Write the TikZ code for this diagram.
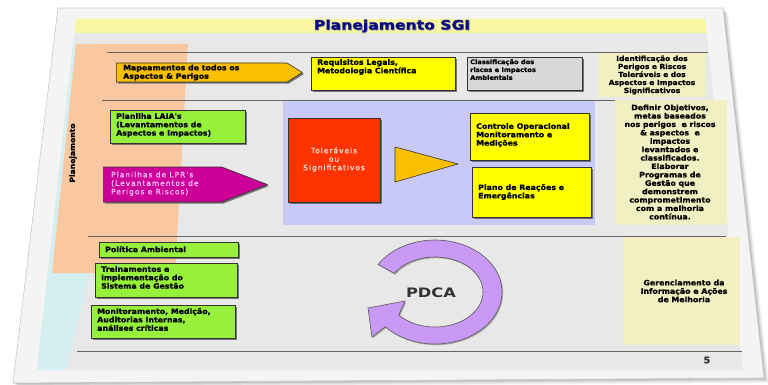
\documentclass[tikz,border=0pt]{standalone}
\usepackage{fontspec}
\setmainfont{DejaVu Sans}
\newfontfamily\bxfont{DejaVu Sans}[FakeStretch=1.06,FakeBold=1]
\newfontfamily\lsfont{DejaVu Sans}[LetterSpace=14,FakeBold=0.6]
\newfontfamily\ttlfont{DejaVu Sans}[FakeStretch=1.2,FakeBold=1.5]
\newfontfamily\pdfont{DejaVu Sans}[FakeStretch=1.25]
\usetikzlibrary{shapes.symbols,shapes.geometric,shadows}
\definecolor{slidebg}{HTML}{F4F4F4}
\definecolor{slideln}{HTML}{C8C8C8}
\definecolor{contentbg}{HTML}{E8E8E8}
\definecolor{titleband}{HTML}{F7F7A2}
\definecolor{navy}{HTML}{0A0A80}
\definecolor{orangeband}{HTML}{F9C8A0}
\definecolor{cyanband}{HTML}{D5EFF0}
\definecolor{lavender}{HTML}{C9C9F7}
\definecolor{yel}{HTML}{FFFF00}
\definecolor{gold}{HTML}{F8C000}
\definecolor{grbox}{HTML}{D8D8D8}
\definecolor{pale}{HTML}{F0F0C2}
\definecolor{lime}{HTML}{96F03C}
\definecolor{magenta}{HTML}{CC0099}
\definecolor{redor}{HTML}{FF3300}
\definecolor{pdca}{HTML}{C899F5}
\definecolor{pinktxt}{HTML}{FFD0FF}
\newcommand\ftA{\bxfont\bfseries\fontsize{7.4}{8.4}\selectfont}
\newcommand\ftB{\bxfont\bfseries\fontsize{6.3}{7.9}\selectfont}
\newcommand\ftL{\lsfont\fontsize{7.4}{8.5}\selectfont}
\begin{document}
\begin{tikzpicture}[x=1pt,y=-1pt,
  box/.style={draw=black!80, line width=0.6pt, inner sep=0pt, anchor=north west,
    drop shadow={shadow xshift=1.6pt, shadow yshift=-1.6pt, fill=black!65, opacity=0.8}},
  palebox/.style={fill=pale, inner sep=0pt, anchor=north west},
  txt/.style={font=\ftA, align=left, inner sep=0pt, anchor=north west},
  ctxt/.style={font=\ftA, align=center, inner sep=0pt},
  hline/.style={draw=black!60, line width=0.8pt}]
\useasboundingbox (0,0) rectangle (768,385);
% slide with soft shadow
\foreach \s/\o in {5/0.04,4/0.05,3/0.06,2/0.07,1/0.08}
  \fill[black,opacity=\o] (58+\s,8+\s) -- (723+\s,8+\s) -- (764+\s,378+\s) -- (13+\s,383+\s) -- cycle;
\fill[slidebg,draw=slideln,line width=0.6pt] (58,8) -- (723,8) -- (764,378) -- (13,383) -- cycle;
% content area
\fill[contentbg] (74.5,33) -- (706.5,33) -- (743,370) -- (37,370) -- cycle;
\fill[titleband] (76,19) -- (705,19) -- (706.5,33) -- (74.5,33) -- cycle;
\node[font=\ttlfont\bfseries\fontsize{13}{13}\selectfont, text=black!35, inner sep=0pt] (ttlshadow) at (392.8,26.8) {Planejamento SGI};
\node[font=\ttlfont\bfseries\fontsize{13}{13}\selectfont, text=navy, inner sep=0pt] (ttl) at (392,26) {Planejamento SGI};
% left bands
\fill[cyanband] (73,44) -- (92,44) -- (90,273) -- (66,370) -- (37,370) -- cycle;
\fill[orangeband] (76,44) -- (188,44) -- (175,273) -- (52,273) -- cycle;
\node[font=\bxfont\bfseries\fontsize{7.2}{8}\selectfont, rotate=90, inner sep=0pt] (plan) at (73,153) {Planejamento};
% separator lines
\draw[hline] (107,52) -- (708,52);
\draw[hline] (102,100) -- (712,100);
\draw[hline] (88,236) -- (726,236);
\draw[hline] (77,351) -- (742,351);
% lavender region
\fill[lavender] (283,101) rectangle (595,225);
% row 1
\node[box, signal, signal to=east, signal pointer angle=64, fill=gold, minimum width=186pt, minimum height=19pt, anchor=west] (map) at (116,72.5) {};
\node[txt] (mapt) at (123,64.5) {Mapeamentos de todos os\\Aspectos \& Perigos};
\node[box, fill=yel, minimum width=144pt, minimum height=33pt] (req) at (311,57) {};
\node[txt] (reqt) at (317,59) {Requisitos Legais,\\Metodologia Científica};
\node[box, fill=grbox, minimum width=115pt, minimum height=33pt] (cls) at (467,57) {};
\node[txt, font=\ftB] (clst) at (470,59) {Classificação dos\\riscos e Impactos\\Ambientais};
\node[palebox, minimum width=108pt, minimum height=44pt] (ident) at (598,53) {};
\node[ctxt, font=\bxfont\bfseries\fontsize{7}{8}\selectfont] (identt) at (652,75) {Identificação dos\\Perigos e Riscos\\Toleráveis e dos\\Aspectos e Impactos\\Significativos};
% row 2
\node[box, fill=lime, minimum width=135pt, minimum height=33pt] (laia) at (110,110) {};
\node[txt] (laiat) at (116,113) {Planilha LAIA's\\(Levantamentos de\\Aspectos e Impactos)};
\node[box, signal, signal to=east, signal pointer angle=42, fill=magenta, minimum width=164pt, minimum height=35pt, anchor=west] (lpr) at (103,184.5) {};
\node[txt, font=\ftL, text=pinktxt] (lprt) at (111,171.5) {Planilhas de LPR's\\(Levantamentos de\\Perigos e Riscos)};
\node[box, fill=redor, minimum width=92pt, minimum height=84pt] (tol) at (288,118) {};
\node[ctxt, font=\ftL, text=white!92!red] (tolt) at (334,159.5) {Toleráveis\\ou\\Significativos};
\coordinate (tria) at (395,147);
\coordinate (trib) at (395,182);
\coordinate (tric) at (458,164);
\filldraw[draw=black!80, line width=0.6pt, fill=gold] (tria) -- (trib) -- (tric) -- cycle;
\node[box, fill=yel, minimum width=119pt, minimum height=47pt] (ctrl) at (470,113) {};
\node[txt] (ctrlt) at (476,123) {Controle Operacional\\Monitoramento e\\Medições};
\node[box, fill=yel, minimum width=119pt, minimum height=50pt] (plano) at (472,167) {};
\node[txt] (planot) at (478,184) {Plano de Reações e\\Emergências};
\node[palebox, minimum width=112pt, minimum height=125pt] (def) at (615,100) {};
\node[ctxt] (deft) at (670,162) {Definir Objetivos,\\metas baseados\\nos perigos\ \ e riscos\\\& aspectos\ \ e\\impactos\\levantados e\\classificados.\\Elaborar\\Programas de\\Gestão que\\demonstrem\\comprometimento\\com a melhoria\\contínua.};
% row 3
\node[box, fill=lime, minimum width=139pt, minimum height=15pt] (pol) at (99,242) {};
\node[txt] (polt) at (105,246) {Política Ambiental};
\node[box, fill=lime, minimum width=142pt, minimum height=34pt] (trein) at (95,263) {};
\node[txt] (treint) at (101,266) {Treinamentos e\\implementação do\\Sistema de Gestão};
\node[box, fill=lime, minimum width=144pt, minimum height=33pt] (monit) at (91,305) {};
\node[txt] (monitt) at (97,308) {Monitoramento, Medição,\\Auditorias Internas,\\análises críticas};
% PDCA ring
\filldraw[fill=pdca, draw=black!65, line width=0.6pt,
  drop shadow={shadow xshift=1.2pt, shadow yshift=-1.2pt, fill=black!50, opacity=0.6}]
  plot[domain=212:498, samples=80] ({435+67*cos(\x)},{292+52*sin(\x)})
  -- (372,337) -- (368,308) -- (405,301) -- (398.6,315.4)
  -- plot[domain=498:212, samples=80] ({435+48*cos(\x)},{292+35*sin(\x)}) -- cycle;
\node[font=\pdfont\bfseries\fontsize{13}{13}\selectfont, text=black!80, inner sep=0pt] (pdcat) at (431,293) {PDCA};
\node[palebox, minimum width=117pt, minimum height=108pt] (ger) at (623,237) {};
\node[ctxt] (gert) at (684,291) {Gerenciamento da\\Informação e Ações\\de Melhoria};
\node[font=\bxfont\bfseries\fontsize{9}{9}\selectfont, text=black!80, inner sep=0pt] (pg) at (707,360) {5};
\end{tikzpicture}
\end{document}
